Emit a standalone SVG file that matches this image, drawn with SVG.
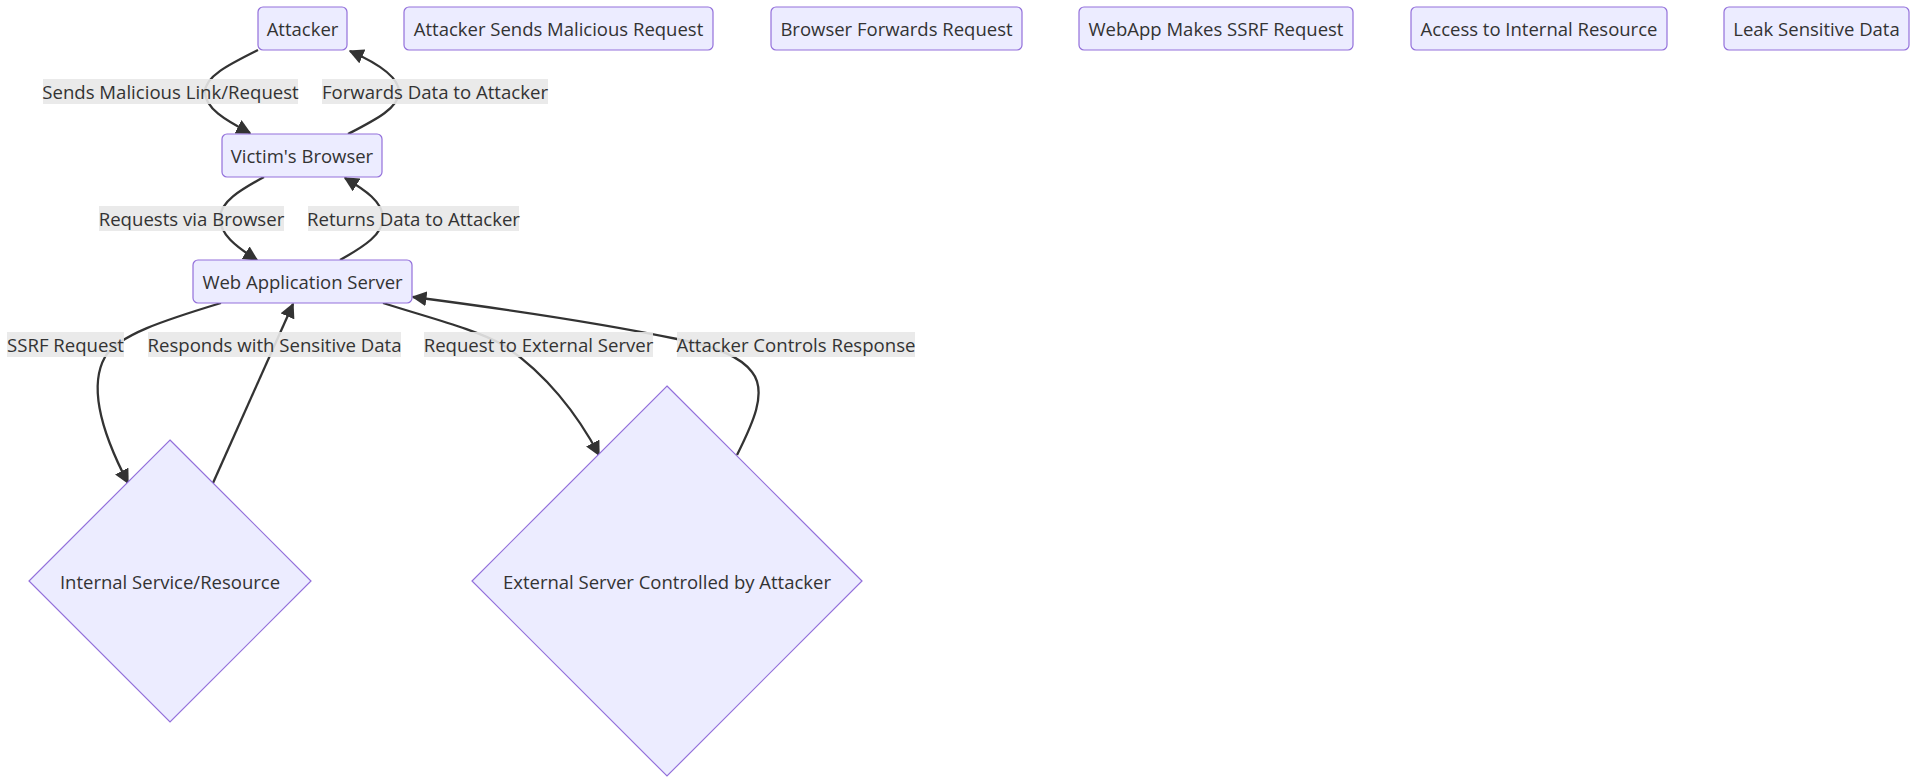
<svg xmlns="http://www.w3.org/2000/svg" width="1913" height="782" viewBox="0 0 1913 782">
<style>
  .node rect, .node polygon { fill: #ECECFF; stroke: #9370DB; stroke-width: 1.2; }
  .node text { font-family: "Open Sans", "Noto Sans", sans-serif; font-size: 18.5px; fill: #333333; text-anchor: middle; dominant-baseline: central; }
  .edge path { fill: none; stroke: #333333; stroke-width: 2.3; }
  .elabel rect { fill: #e8e8e8; fill-opacity: 0.9; stroke: none; }
  .elabel text { font-family: "Open Sans", "Noto Sans", sans-serif; font-size: 18.6px; fill: #333333; text-anchor: middle; dominant-baseline: central; }
</style>
<defs>
  <marker id="arrow" viewBox="0 0 10 10" refX="9" refY="5" markerUnits="userSpaceOnUse" markerWidth="15" markerHeight="15" orient="auto">
    <path d="M0,0 L10,5 L0,10 z" fill="#333333"/>
  </marker>
</defs>
<rect width="1913" height="782" fill="#ffffff"/>

<g id="connectors">
  <g class="edge">
    <path d="M258,50 C230,64 205,76 205,92 C205,108 225,120 250,133" marker-end="url(#arrow)"/>
    <path d="M348,134 C375,120 399,108 399,92 C399,76 375,62 350,51" marker-end="url(#arrow)"/>
    <path d="M264,177 C240,190 220,202 220,218 C220,234 235,246 257,260" marker-end="url(#arrow)"/>
    <path d="M340,260 C365,246 383,234 383,218 C383,202 365,190 345,178" marker-end="url(#arrow)"/>
    <path d="M221,303 C165,320 118,335 105,357 C92,380 95,420 128,483" marker-end="url(#arrow)"/>
    <path d="M213,483 L293,304" marker-end="url(#arrow)"/>
    <path d="M383,303 C430,318 478,330 503,345 C545,372 578,415 599,455" marker-end="url(#arrow)"/>
    <path d="M737,455 C752,425 768,392 752,372 C740,356 715,346 677,339 C590,321 490,307 413,297" marker-end="url(#arrow)"/>
  </g>
  <g class="elabel">
    <rect x="43" y="79" width="255" height="25"/><text x="170.5" y="91">Sends Malicious Link/Request</text>
    <rect x="322" y="79" width="226" height="25"/><text x="435" y="91">Forwards Data to Attacker</text>
    <rect x="99" y="206" width="185" height="25"/><text x="191.5" y="218">Requests via Browser</text>
    <rect x="308" y="206" width="211" height="25"/><text x="413.5" y="218">Returns Data to Attacker</text>
    <rect x="7" y="332" width="117" height="25"/><text x="65.5" y="344">SSRF Request</text>
    <rect x="148" y="332" width="253" height="25"/><text x="274.5" y="344">Responds with Sensitive Data</text>
    <rect x="424" y="332" width="229" height="25"/><text x="538.5" y="344">Request to External Server</text>
    <rect x="677" y="332" width="238" height="25"/><text x="796" y="344">Attacker Controls Response</text>
  </g>
</g>

<g id="node-attacker" class="node">
  <rect x="258" y="7" width="89" height="43" rx="5" ry="5"/>
  <text x="302.5" y="28.5">Attacker</text>
</g>
<g id="node-victim-browser" class="node">
  <rect x="222" y="134" width="160" height="43" rx="5" ry="5"/>
  <text x="302" y="155.5">Victim's Browser</text>
</g>
<g id="node-webapp-server" class="node">
  <rect x="193" y="260" width="219" height="43" rx="5" ry="5"/>
  <text x="302.5" y="281.5">Web Application Server</text>
</g>
<g id="node-internal-service" class="node">
  <polygon points="170,440 311,581 170,722 29,581"/>
  <text x="170" y="581">Internal Service/Resource</text>
</g>
<g id="node-external-server" class="node">
  <polygon points="667,386 862,581 667,776 472,581"/>
  <text x="667" y="581">External Server Controlled by Attacker</text>
</g>
<g id="node-step1" class="node">
  <rect x="404" y="7" width="309" height="43" rx="5" ry="5"/>
  <text x="558.5" y="28.5">Attacker Sends Malicious Request</text>
</g>
<g id="node-step2" class="node">
  <rect x="771" y="7" width="251" height="43" rx="5" ry="5"/>
  <text x="896.5" y="28.5">Browser Forwards Request</text>
</g>
<g id="node-step3" class="node">
  <rect x="1079" y="7" width="274" height="43" rx="5" ry="5"/>
  <text x="1216" y="28.5">WebApp Makes SSRF Request</text>
</g>
<g id="node-step4" class="node">
  <rect x="1411" y="7" width="256" height="43" rx="5" ry="5"/>
  <text x="1539" y="28.5">Access to Internal Resource</text>
</g>
<g id="node-step5" class="node">
  <rect x="1724" y="7" width="185" height="43" rx="5" ry="5"/>
  <text x="1816.5" y="28.5">Leak Sensitive Data</text>
</g>
</svg>
